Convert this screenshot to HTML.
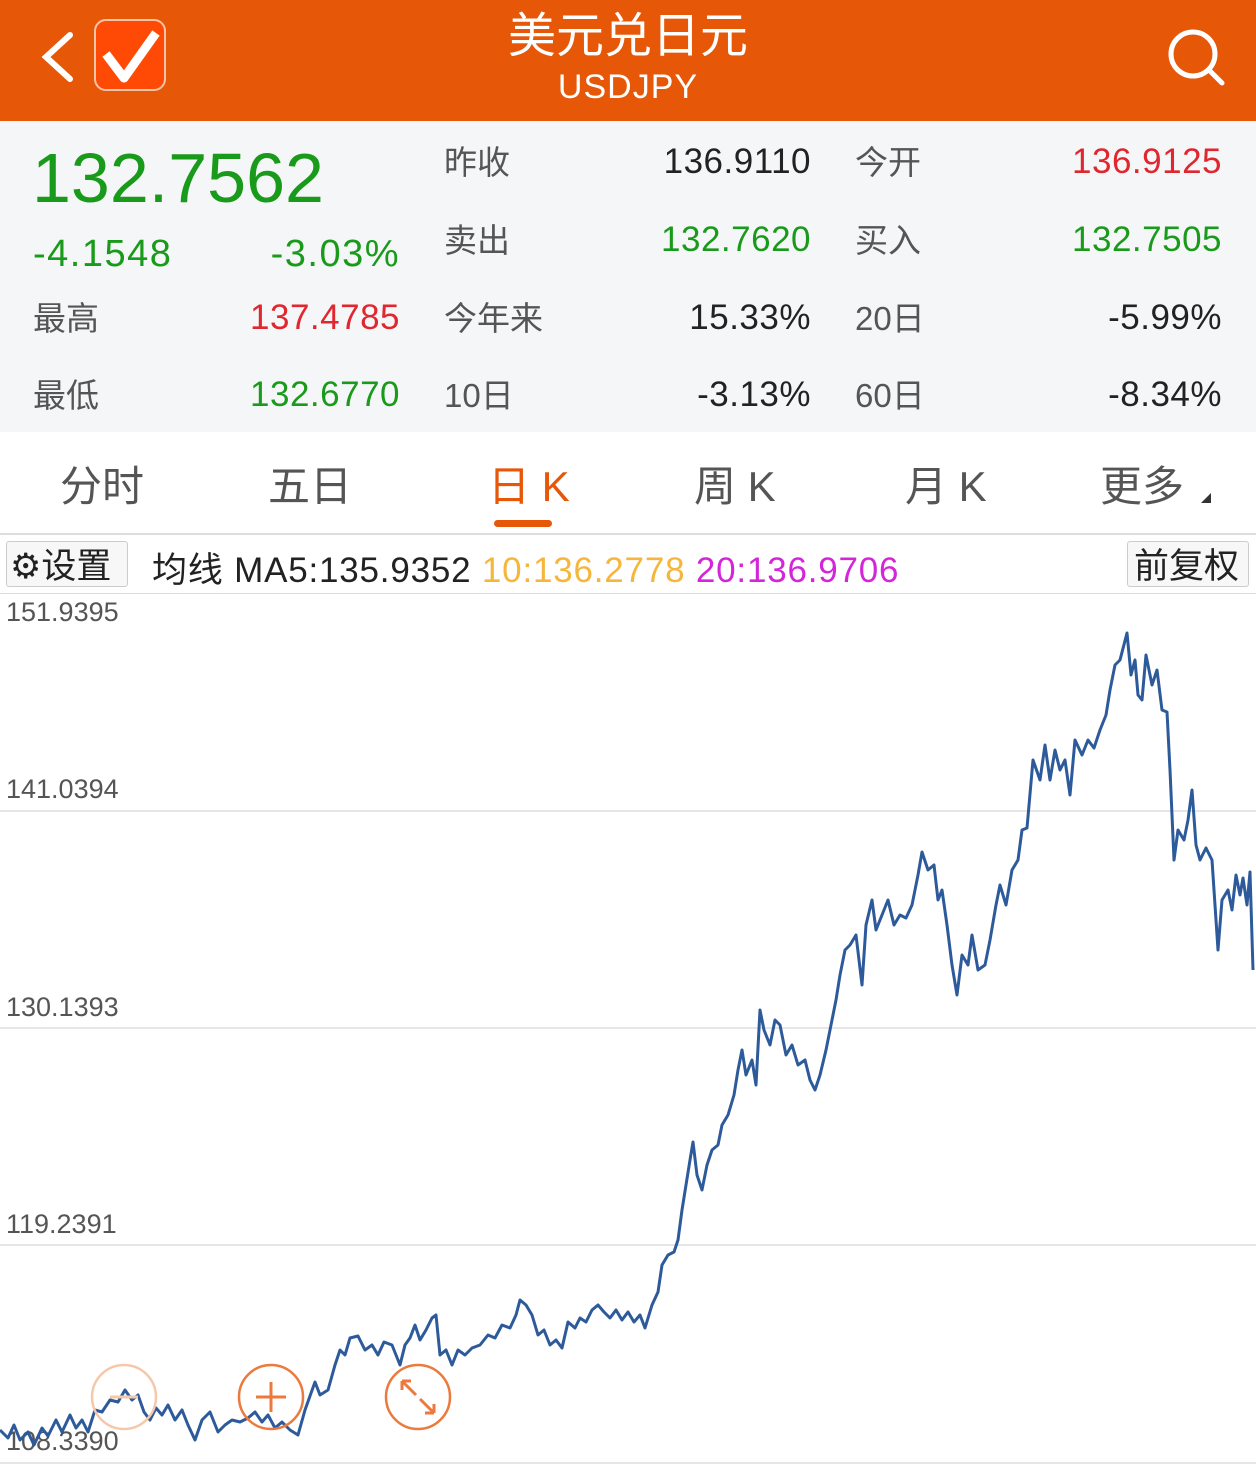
<!DOCTYPE html>
<html><head><meta charset="utf-8"><style>
*{margin:0;padding:0;box-sizing:border-box}
body{width:1256px;height:1474px;overflow:hidden;background:#fff;font-family:"Liberation Sans","Noto Sans CJK SC",sans-serif;position:relative}
.a{position:absolute;white-space:nowrap}
.hdr{position:absolute;left:0;top:0;width:1256px;height:121px;background:#E65708}
.info{position:absolute;left:0;top:121px;width:1256px;height:311px;background:#F5F6F8}
.g{color:#1A9A1A}.r{color:#E0262E}.k{color:#222}.l{color:#555}
.f32{font-size:35px;letter-spacing:0.5px}
.lb{font-size:33px}
</style></head><body>
<div class="hdr"></div>
<svg class="a" style="left:0;top:0" width="1256" height="121">
<polyline points="70,35 46,57 70,79" fill="none" stroke="#fff" stroke-width="6" stroke-linecap="round"/>
<rect x="95" y="20" width="70" height="70" rx="11" fill="#FF4A05" stroke="#f7c4a8" stroke-width="2"/>
<polyline points="106,54 124,78 156,33" fill="none" stroke="#fff" stroke-width="9" stroke-linejoin="round"/>
<circle cx="1193" cy="54" r="22" fill="none" stroke="#fff" stroke-width="5"/>
<line x1="1209" y1="70" x2="1222" y2="83" stroke="#fff" stroke-width="5" stroke-linecap="round"/>
</svg>
<div class="a" style="left:0;width:1256px;top:-4px;text-align:center;color:#fff;font-size:48px">美元兑日元</div>
<div class="a" style="left:0;width:1256px;top:68px;text-align:center;color:#fff;font-size:34px;letter-spacing:1px">USDJPY</div>
<div class="info"></div>
<div class="a g" style="left:32px;top:138px;font-size:70px">132.7562</div>
<div class="a g f32" style="left:33px;top:233px;font-size:38px;letter-spacing:1.5px">-4.1548</div>
<div class="a g f32" style="right:856px;top:233px;font-size:38px;letter-spacing:1.5px">-3.03%</div>
<div class="a l lb" style="left:33px;top:292px">最高</div>
<div class="a r f32" style="right:856px;top:298px">137.4785</div>
<div class="a l lb" style="left:33px;top:369px">最低</div>
<div class="a g f32" style="right:856px;top:375px">132.6770</div>
<div class="a l lb" style="left:444px;top:136px">昨收</div>
<div class="a k f32" style="right:445px;top:142px">136.9110</div>
<div class="a l lb" style="left:444px;top:214px">卖出</div>
<div class="a g f32" style="right:445px;top:220px">132.7620</div>
<div class="a l lb" style="left:444px;top:292px">今年来</div>
<div class="a k f32" style="right:445px;top:298px">15.33%</div>
<div class="a l lb" style="left:444px;top:369px">10日</div>
<div class="a k f32" style="right:445px;top:375px">-3.13%</div>
<div class="a l lb" style="left:855px;top:136px">今开</div>
<div class="a r f32" style="right:34px;top:142px">136.9125</div>
<div class="a l lb" style="left:855px;top:214px">买入</div>
<div class="a g f32" style="right:34px;top:220px">132.7505</div>
<div class="a l lb" style="left:855px;top:292px">20日</div>
<div class="a k f32" style="right:34px;top:298px">-5.99%</div>
<div class="a l lb" style="left:855px;top:369px">60日</div>
<div class="a k f32" style="right:34px;top:375px">-8.34%</div>
<div class="a" style="left:60px;top:453px;font-size:42px;color:#555">分时</div>
<div class="a" style="left:268px;top:453px;font-size:42px;color:#555">五日</div>
<div class="a" style="left:488px;top:453px;font-size:42px;color:#E65708">日 K</div>
<div class="a" style="left:494px;top:520px;width:58px;height:7px;border-radius:4px;background:#E65708"></div>
<div class="a" style="left:694px;top:453px;font-size:42px;color:#555">周 K</div>
<div class="a" style="left:905px;top:453px;font-size:42px;color:#555">月 K</div>
<div class="a" style="left:1100px;top:453px;font-size:42px;color:#555">更多</div>
<div class="a" style="left:1201px;top:493px;width:0;height:0;border-left:10px solid transparent;border-bottom:10px solid #333"></div>
<div class="a" style="left:0;top:533px;width:1256px;height:2px;background:#ddd"></div>
<div class="a" style="left:6px;top:541px;width:122px;height:46px;border:1px solid #ccc;background:#f7f7f7;border-radius:3px"></div>
<div class="a" style="left:10px;top:538px;font-size:35px;color:#222">⚙设置</div>
<div class="a" style="left:152px;top:542px;font-size:35px;color:#222;letter-spacing:0.8px">均线 MA5:135.9352 <span style="color:#F5B73B">10:136.2778</span> <span style="color:#D426D9">20:136.9706</span></div>
<div class="a" style="left:1127px;top:541px;width:122px;height:46px;border:1px solid #ccc;background:#f7f7f7;border-radius:3px"></div>
<div class="a" style="left:1134px;top:538px;font-size:35px;color:#222">前复权</div>
<div class="a" style="left:0;top:593px;width:1256px;height:1px;background:#ddd"></div>
<div class="a" style="left:0;top:810px;width:1256px;height:2px;background:#e6e6e6"></div>
<div class="a" style="left:0;top:1027px;width:1256px;height:2px;background:#e6e6e6"></div>
<div class="a" style="left:0;top:1244px;width:1256px;height:2px;background:#e6e6e6"></div>
<div class="a" style="left:0;top:1462px;width:1256px;height:2px;background:#e6e6e6"></div>
<div class="a" style="left:6px;top:597px;font-size:27px;color:#555">151.9395</div>
<div class="a" style="left:6px;top:774px;font-size:27px;color:#555">141.0394</div>
<div class="a" style="left:6px;top:992px;font-size:27px;color:#555">130.1393</div>
<div class="a" style="left:6px;top:1209px;font-size:27px;color:#555">119.2391</div>
<div class="a" style="left:6px;top:1426px;font-size:27px;color:#555">108.3390</div>
<svg class="a" style="left:0;top:0" width="1256" height="1474">
<polyline fill="none" stroke="#2D5A9A" stroke-width="3" stroke-linejoin="round" points="0,1430 8,1438 14,1425 20,1440 28,1432 34,1445 42,1428 48,1436 56,1420 62,1432 70,1415 76,1428 82,1420 88,1432 95,1410 102,1412 110,1400 118,1402 125,1390 132,1400 138,1395 144,1412 150,1420 156,1408 162,1415 168,1405 175,1420 182,1410 188,1425 195,1440 202,1420 210,1412 218,1432 225,1425 232,1420 240,1422 248,1418 255,1412 262,1422 268,1415 275,1428 282,1422 290,1430 298,1435 305,1410 315,1382 320,1395 328,1390 335,1365 340,1350 345,1355 350,1338 358,1336 365,1350 372,1345 378,1355 384,1342 392,1345 400,1365 405,1345 410,1338 415,1325 420,1340 426,1330 432,1318 436,1315 440,1355 446,1350 452,1365 458,1350 465,1355 472,1348 480,1345 488,1335 495,1338 502,1325 510,1328 516,1315 520,1300 526,1305 532,1315 538,1335 544,1330 550,1345 556,1340 562,1348 568,1322 575,1328 580,1318 586,1322 592,1310 598,1305 604,1312 610,1318 616,1310 622,1320 628,1312 634,1322 640,1315 645,1328 652,1305 658,1292 662,1265 668,1255 674,1252 678,1240 682,1210 686,1185 690,1160 693,1142 697,1175 702,1190 707,1165 712,1150 718,1145 722,1125 728,1115 734,1095 738,1070 742,1050 746,1075 752,1060 756,1085 760,1010 764,1030 770,1045 775,1020 780,1025 786,1055 792,1045 798,1065 805,1060 810,1080 815,1090 820,1075 826,1050 830,1030 836,1000 840,975 845,950 850,945 856,935 862,985 866,925 872,900 876,930 882,915 888,900 894,925 900,915 906,918 912,905 918,875 922,852 928,870 934,865 938,900 942,890 947,925 952,965 957,995 962,955 968,965 972,935 978,970 985,965 990,940 996,905 1000,885 1006,905 1012,870 1018,860 1022,830 1027,828 1033,760 1040,780 1045,745 1050,780 1055,750 1060,770 1065,760 1070,795 1075,740 1082,755 1088,740 1094,748 1100,730 1106,715 1110,690 1115,665 1120,660 1127,633 1131,675 1135,660 1138,695 1142,700 1146,655 1152,685 1157,670 1162,710 1167,712 1170,770 1174,860 1178,830 1184,840 1188,820 1192,790 1196,845 1200,860 1206,848 1212,860 1216,920 1218,950 1222,900 1228,890 1232,910 1236,875 1240,895 1243,878 1247,905 1250,872 1253,970"/>
<circle cx="124" cy="1397" r="32" fill="none" stroke="#F5C8AA" stroke-width="2.5"/>
<line x1="110" y1="1397" x2="138" y2="1397" stroke="#F5C8AA" stroke-width="3"/>
<circle cx="271" cy="1397" r="32" fill="none" stroke="#EB7A3C" stroke-width="2.5"/>
<line x1="256" y1="1397" x2="286" y2="1397" stroke="#EB7A3C" stroke-width="3"/>
<line x1="271" y1="1382" x2="271" y2="1412" stroke="#EB7A3C" stroke-width="3"/>
<circle cx="418" cy="1397" r="32" fill="none" stroke="#EB7A3C" stroke-width="2.5"/>
<path d="M402,1381 L416,1395 M402,1381 v9 M402,1381 h9 M434,1413 L420,1399 M434,1413 v-9 M434,1413 h-9" stroke="#EB7A3C" stroke-width="3" fill="none"/>
</svg>
</body></html>
